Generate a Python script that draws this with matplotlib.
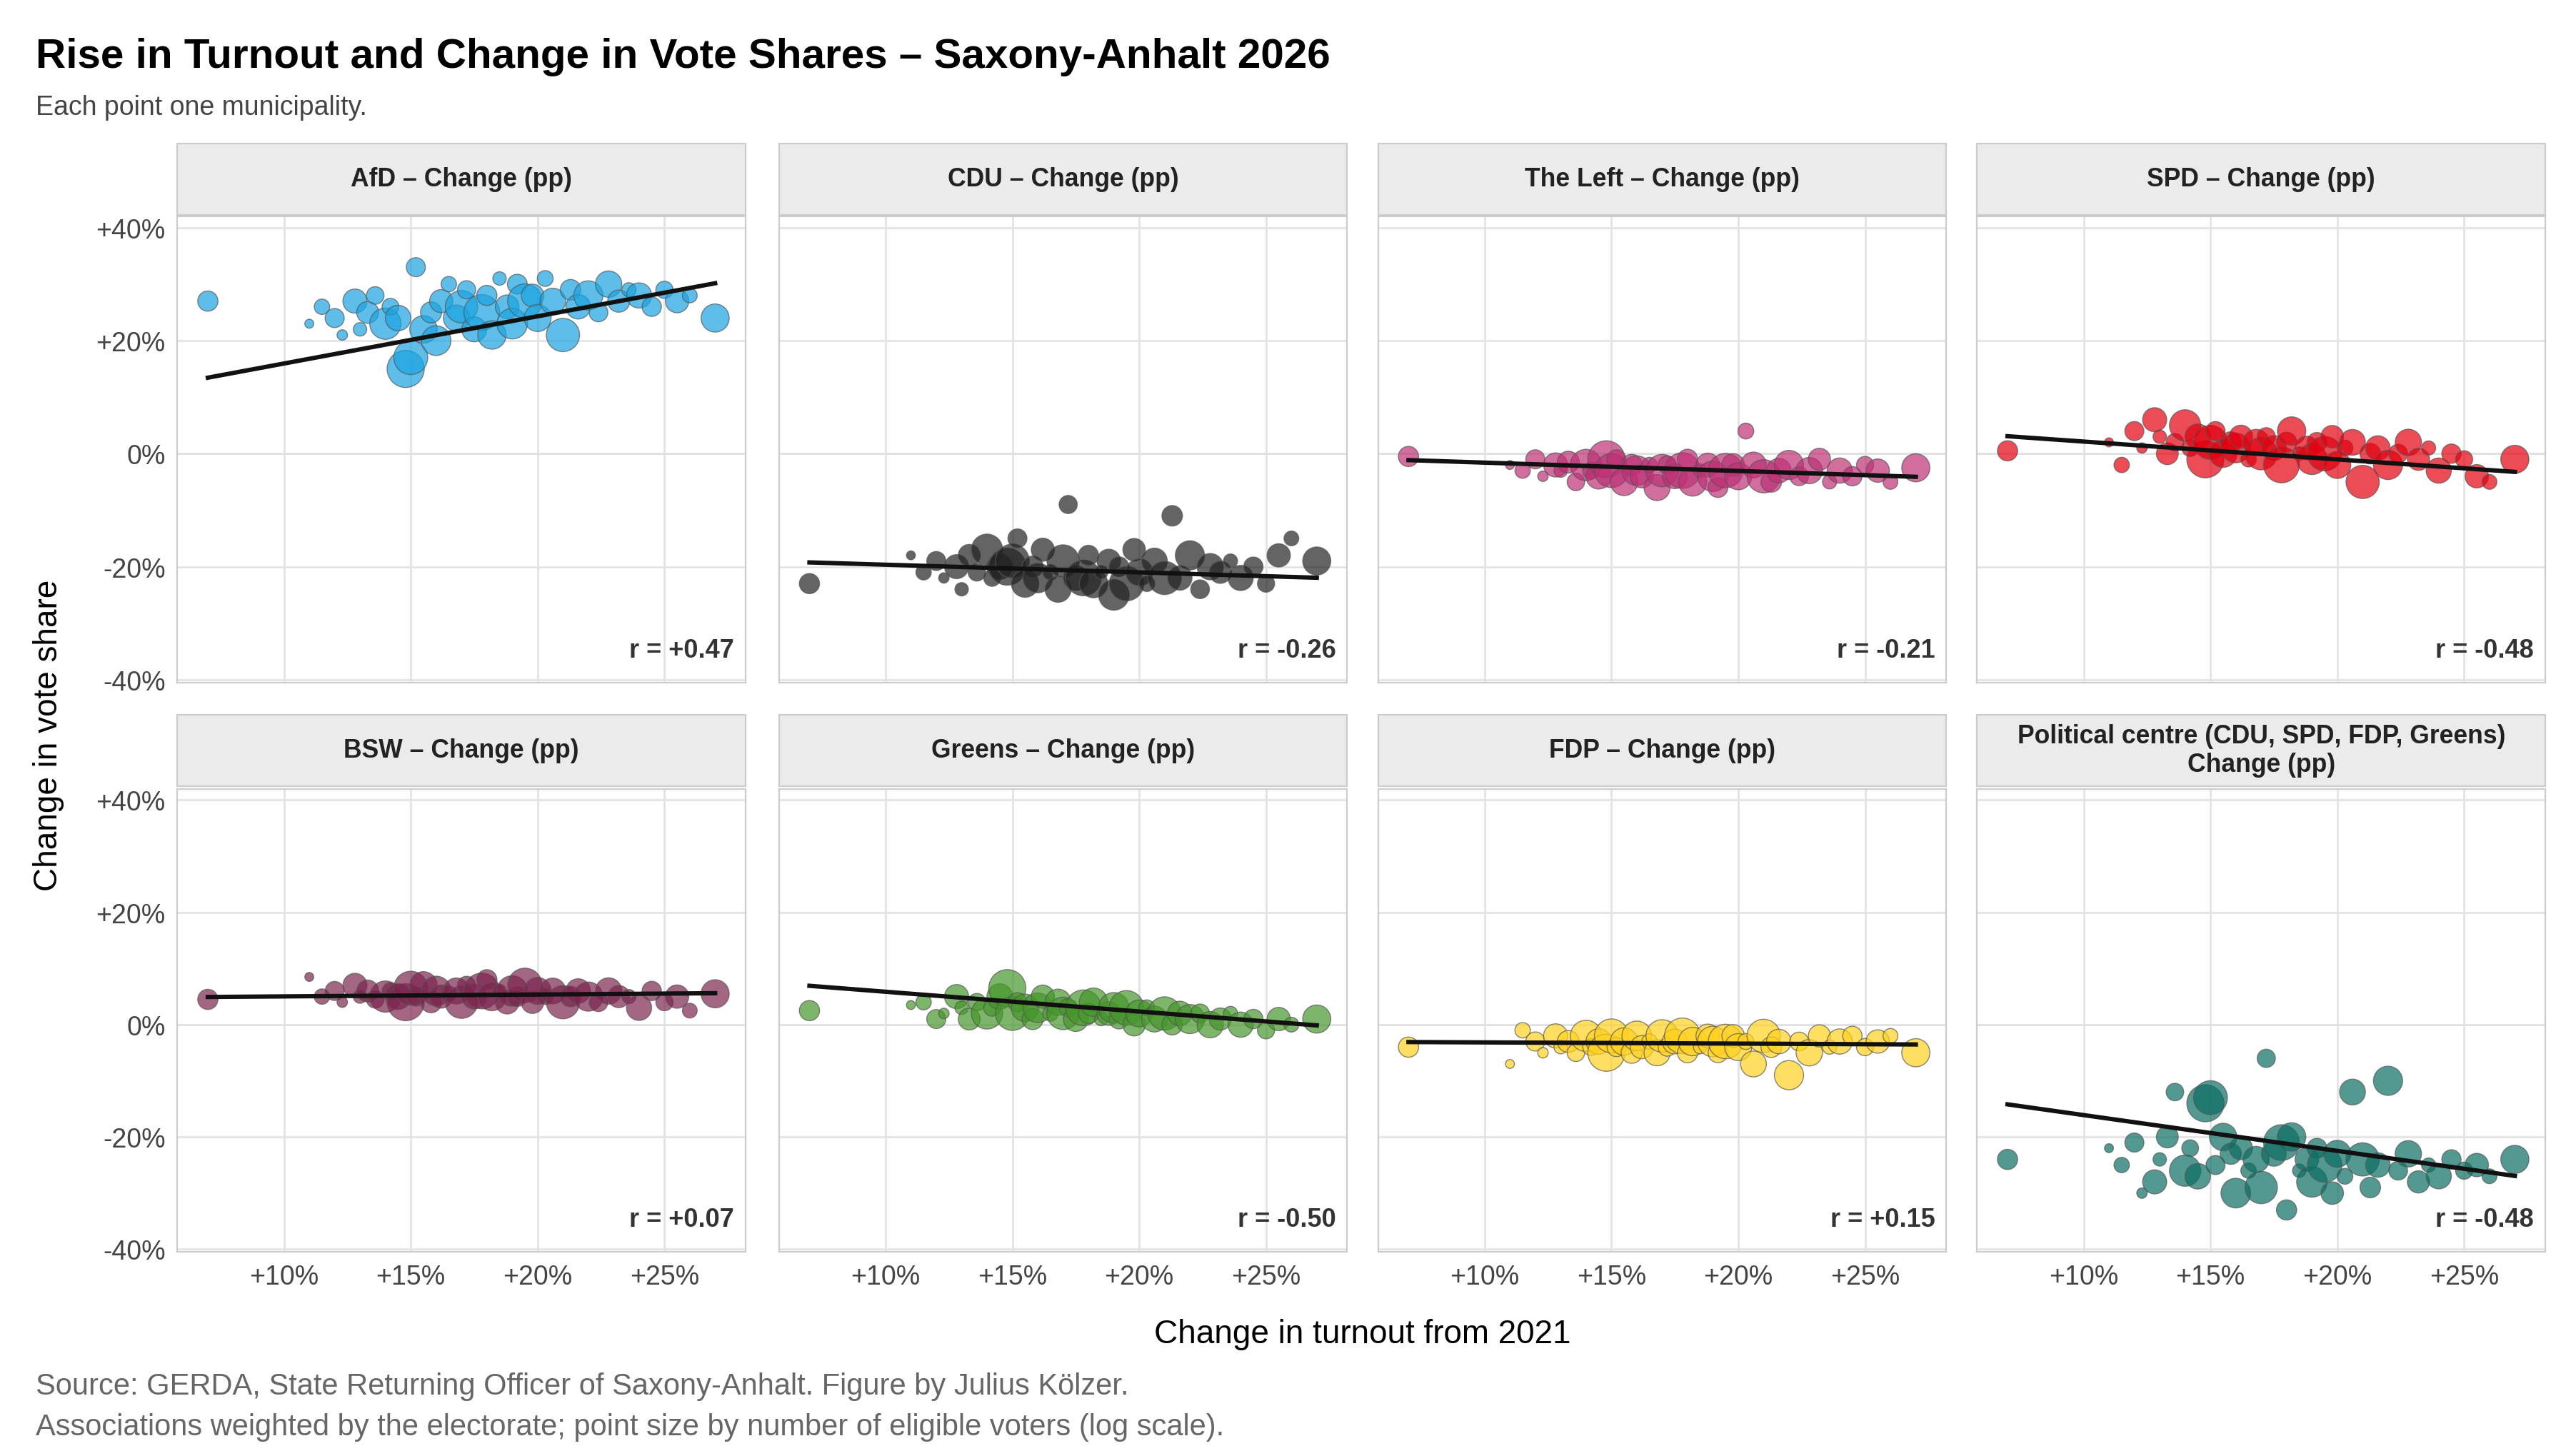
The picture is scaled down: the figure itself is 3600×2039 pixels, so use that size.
import matplotlib.pyplot as plt
from matplotlib.patches import Rectangle
import numpy as np

plt.rcParams['font.family'] = ['Liberation Sans', 'DejaVu Sans']

# shared municipality data (turnout change, eligible voters)
turnout = [7.0, 11.0, 11.5, 12.0, 12.3, 12.8, 13.0, 13.3, 13.6, 14.0,
           14.2, 14.5, 14.8, 15.0, 15.2, 15.5, 15.8, 16.0, 16.2, 16.5,
           16.8, 17.0, 17.2, 17.5, 17.8, 18.0, 18.2, 18.5, 18.8, 19.0,
           19.2, 19.5, 19.8, 20.0, 20.3, 20.6, 21.0, 21.3, 21.6, 22.0,
           22.4, 22.8, 23.2, 23.6, 24.0, 24.5, 25.0, 25.5, 26.0, 27.0]
voters = [3000, 800, 1500, 2500, 900, 6000, 1200, 4000, 2000, 30000,
          1800, 8000, 150000, 60000, 2500, 12000, 3500, 20000, 5000, 1500,
          9000, 40000, 2200, 7000, 100000, 3000, 15000, 1200, 5500, 25000,
          2800, 70000, 4500, 11000, 1600, 8500, 50000, 3200, 6500, 18000,
          2400, 9500, 4200, 1300, 7500, 2600, 1900, 5200, 1400, 14000]

titles = ["AfD – Change (pp)", "CDU – Change (pp)", "The Left – Change (pp)", "SPD – Change (pp)",
          "BSW – Change (pp)", "Greens – Change (pp)", "FDP – Change (pp)",
          "Political centre (CDU, SPD, FDP, Greens)\nChange (pp)"]
colors = ["#1AA3E0", "#222222", "#BE3075", "#E3000F", "#7D254F", "#46962B", "#FFD21F", "#0B6E63"]
r_labels = ["r = +0.47", "r = -0.26", "r = -0.21", "r = -0.48",
            "r = +0.07", "r = -0.50", "r = +0.15", "r = -0.48"]

afd = [27, 23, 26, 24, 21, 27, 22, 25, 28, 23, 26, 24, 15, 17, 33, 22, 25, 20, 27, 30,
       24, 26, 29, 22, 25, 28, 21, 31, 26, 23, 30, 27, 28, 24, 31, 27, 21, 29, 26, 28,
       25, 30, 27, 29, 28, 26, 29, 27, 28, 24]
cdu = [-23, -18, -21, -19, -22, -20, -24, -18, -21, -17, -22, -20, -20, -19, -15, -23, -20, -22, -17, -21,
       -24, -19, -9, -22, -22, -18, -23, -21, -19, -25, -20, -23, -17, -21, -23, -19, -22, -11, -22, -18,
       -24, -20, -21, -19, -22, -20, -23, -18, -15, -19]
left = [-0.5, -2, -3, -1, -4, -2, -3, -1.5, -5, -2, -3, -4, -1, -3, -1, -5, -2, -3, -4, -2,
        -6, -3, -2, -4, -3, -1, -5, -3, -2, -4, -6, -3, -2, -4, 4, -2, -4, -5, -3, -2,
        -4, -3, -1, -5, -3, -4, -2, -3, -5, -2.5]
spd = [0.5, 2, -2, 4, 1, 6, 3, 0, 2, 5, 1, 3, -1, 2, 4, 0, 2, 1, 3, -1,
       2, 0, 3, 1, -2, 2, 4, 0, 1, -1, 2, 0, 3, -2, 1, 2, -5, 0, 1, -2,
       0, 2, -1, 1, -3, 0, -1, -4, -5, -1]
bsw = [4.5, 8.5, 5, 6, 4, 7, 5, 6, 4.5, 5, 6, 5, 4, 6.5, 5, 7, 4, 6, 5, 5.5,
       6, 4, 7, 5, 6, 8, 5, 6, 4, 6, 5, 7, 4, 6, 5, 6, 4, 5, 6, 5,
       4, 6, 5, 5, 3, 6, 4, 5, 2.5, 5.5]
greens = [2.5, 3.5, 4, 1, 2, 5, 3, 1, 4, 2, 3, 5, 6.5, 2, 4, 3, 1, 3, 5, 2,
          4, 2, 3, 1, 3, 2, 4, 1, 2, 3, 1, 3, 0, 2, 3, 1, 2, 0, 2, 1,
          2, 0, 1, 2, 0, 1, -1, 1, 0, 1]
fdp = [-4, -7, -1, -3, -5, -2, -4, -3, -5, -2, -4, -3, -5, -2, -4, -3, -5, -2, -4, -3,
       -5, -2, -4, -3, -2, -5, -3, -4, -2, -3, -5, -3, -2, -4, -3, -7, -2, -4, -3, -9,
       -3, -5, -2, -4, -3, -2, -4, -3, -2, -5]
centre = [-24, -22, -25, -21, -30, -28, -24, -20, -12, -26, -22, -27, -14, -13, -25, -20, -23, -30, -22, -26,
          -24, -29, -6, -23, -21, -33, -20, -26, -24, -28, -22, -25, -30, -23, -27, -12, -24, -29, -25, -10,
          -26, -23, -28, -25, -27, -24, -26, -25, -27, -24]
series = [afd, cdu, left, spd, bsw, greens, fdp, centre]

x = np.array(turnout)
w = np.array(voters, dtype=float)
sizes = 20 + (np.log10(w) - 2.9) * 145

fig = plt.figure(figsize=(18, 10.2), dpi=200)
fig.text(0.014, 0.961, "Rise in Turnout and Change in Vote Shares – Saxony-Anhalt 2026",
         fontsize=21, fontweight="bold", va="center")
fig.text(0.014, 0.926, "Each point one municipality.", fontsize=13.5, color="#444444", va="center")

lefts = [0.069, 0.303, 0.536, 0.769]
pw = 0.221
rows = [(0.531, 0.320, 0.852), (0.140, 0.318, 0.460)]  # plot bottom, height, strip bottom
for i, (ys, title, col, rl) in enumerate(zip(series, titles, colors, r_labels)):
    r, c = divmod(i, 4)
    pb, ph, sb = rows[r]
    ax = fig.add_axes([lefts[c], pb, pw, ph])
    fig.patches.append(Rectangle((lefts[c], sb), pw, 0.049, transform=fig.transFigure,
                                 facecolor="#EBEBEB", edgecolor="#CCCCCC", lw=0.8))
    fig.text(lefts[c] + pw / 2, sb + 0.0245, title, ha="center", va="center",
             fontsize=12.8, fontweight="bold", color="#222222")
    y = np.array(ys)
    ax.scatter(x, y, s=sizes, color=col, alpha=0.7, edgecolor="#555555", linewidth=0.5, zorder=3)
    b, a = np.polyfit(x, y, 1, w=np.sqrt(w))
    xl = np.array([x.min(), x.max()])
    ax.plot(xl, a + b * xl, color="#111111", lw=2.2, zorder=4)
    ax.text(0.98, 0.07, rl, transform=ax.transAxes, ha="right", va="center",
            fontsize=13, fontweight="bold", color="#333333")
    ax.set_xlim(5.8, 28.2)
    ax.set_ylim(-40.5, 42)
    ax.set_xticks([10, 15, 20, 25])
    ax.set_yticks([-40, -20, 0, 20, 40])
    ax.set_xticklabels(["+10%", "+15%", "+20%", "+25%"] if r == 1 else [])
    ax.set_yticklabels(["-40%", "-20%", "0%", "+20%", "+40%"] if c == 0 else [])
    ax.grid(color="#E3E3E3", lw=1, zorder=0)
    ax.axhline(0, color="#CCCCCC", lw=1, zorder=1)
    ax.tick_params(length=0, labelsize=13.5, labelcolor="#444444", pad=6)
    for s in ax.spines.values():
        s.set_color("#CCCCCC")
        s.set_linewidth(0.8)

fig.text(0.53, 0.084, "Change in turnout from 2021", ha="center", va="center", fontsize=16.5)
fig.text(0.019, 0.495, "Change in vote share", rotation=90, ha="center", va="center", fontsize=16.5)
fig.text(0.014, 0.048, "Source: GERDA, State Returning Officer of Saxony-Anhalt. Figure by Julius Kölzer.",
         fontsize=15, color="#666666", va="center")
fig.text(0.014, 0.020, "Associations weighted by the electorate; point size by number of eligible voters (log scale).",
         fontsize=15, color="#666666", va="center")

fig.savefig("out.png", dpi=200, facecolor="white")
